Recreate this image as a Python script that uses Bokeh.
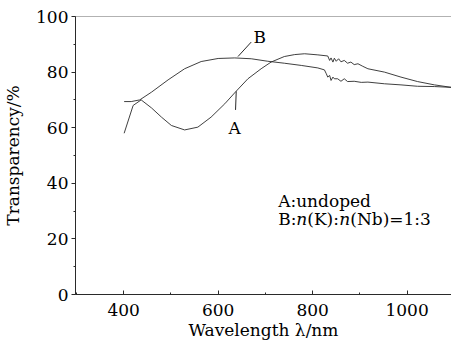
from bokeh.plotting import figure
from bokeh.models import Range1d, SingleIntervalTicker, Span
from bokeh.core.properties import value
from bokeh.embed import file_html
from bokeh.resources import INLINE

# Curve A: undoped
a_wl = [401, 420, 437, 459, 480, 501, 529, 557, 585, 614, 638, 663, 691, 712, 740, 762, 783,
        811, 832, 836, 839, 843, 846, 850, 855, 860, 867, 874, 881, 888, 896, 906, 917,
        952, 987, 1022, 1058, 1094]
a_tr = [58.0, 68.0, 70.0, 67.1, 63.8, 60.8, 59.2, 60.2, 63.8, 68.6, 73.1, 77.6, 81.2, 83.6, 85.6, 86.3, 86.6,
        86.2, 85.8, 84.2, 85.1, 83.6, 85.0, 83.9, 84.8, 83.7, 84.2, 83.2, 83.6, 82.7, 83.0, 82.1, 81.2,
        80.0, 78.2, 76.6, 75.4, 74.5]

# Curve B: n(K):n(Nb)=1:3
b_wl = [401, 416, 434, 459, 494, 529, 564, 600, 635, 670, 705, 740, 776, 811, 825,
        829, 832, 836, 839, 843, 846, 853, 860, 867, 874, 888, 903, 917,
        952, 987, 1022, 1058, 1094]
b_tr = [69.4, 69.4, 70.0, 72.8, 77.2, 81.2, 83.8, 84.9, 85.1, 84.8, 83.9, 83.2, 82.4, 81.5, 80.8,
        79.4, 78.2, 78.8, 77.0, 78.2, 77.6, 77.6, 76.7, 77.6, 76.6, 76.7, 76.3, 76.4,
        75.8, 75.4, 74.9, 74.8, 74.5]

x_ticks = [400, 600, 800, 1000]
y_ticks = [0, 20, 40, 60, 80, 100]

FONT = "DejaVu Serif"
INK = "#2a2a2a"

p = figure(width=451, height=342, output_backend="svg", toolbar_location=None,
           x_range=Range1d(298, 1094), y_range=Range1d(0, 100),
           min_border_left=75, min_border_right=0, min_border_top=16, min_border_bottom=48)
p.outline_line_color = None
p.grid.visible = False
p.background_fill_color = "white"
p.border_fill_color = "white"

p.line(a_wl, a_tr, line_color=INK, line_width=0.9)
p.line(b_wl, b_tr, line_color=INK, line_width=0.9)

p.add_layout(Span(location=100, dimension="width", line_color="#666666", line_width=1))

# leader lines and curve labels
p.line([670, 642], [90.8, 85.6], line_color=INK, line_width=1)
p.line([636.8, 638.3], [66.4, 73.1], line_color=INK, line_width=1)
p.text(x=[688], y=[92.6], text=["B"], text_font=value(FONT), text_font_size="17px",
       text_align="center", text_baseline="middle", text_color="black")
p.text(x=[635], y=[60.0], text=["A"], text_font=value(FONT), text_font_size="17px",
       text_align="center", text_baseline="middle", text_color="black")

# legend-like notes
p.text(x=[727], y=[33.8], text=["A:undoped"], text_font=value(FONT), text_font_size="17px",
       text_align="left", text_baseline="middle", text_color="black")
pieces = ["B:", "n", "(K):", "n", "(Nb)=1:3"]
offsets = [0, 18.2, 29.1, 61.2, 72.1]
styles = ["normal", "italic", "normal", "italic", "normal"]
for t, o, s in zip(pieces, offsets, styles):
    p.text(x=[727], y=[27.0], text=[t], x_offset=o, text_font=value(FONT), text_font_size="17px",
           text_font_style=s, text_align="left", text_baseline="middle", text_color="black")

xa = p.xaxis[0]
xa.ticker = SingleIntervalTicker(interval=200, num_minor_ticks=2)
xa.axis_label = "Wavelength λ/nm"
xa.major_tick_in = 4
xa.major_tick_out = 0
xa.minor_tick_in = 2
xa.minor_tick_out = 0
xa.major_label_standoff = 9
xa.axis_label_standoff = 1

ya = p.yaxis[0]
ya.ticker = SingleIntervalTicker(interval=20, num_minor_ticks=2)
ya.axis_label = "Transparency/%"
ya.major_tick_in = 0
ya.major_tick_out = 4
ya.minor_tick_in = 0
ya.minor_tick_out = 2
ya.major_label_standoff = 3
ya.axis_label_standoff = 10

for ax in (xa, ya):
    ax.axis_line_color = INK
    ax.major_tick_line_color = INK
    ax.minor_tick_line_color = INK
    ax.major_label_text_font = FONT
    ax.major_label_text_font_size = "17px"
    ax.major_label_text_color = "black"
    ax.axis_label_text_font = FONT
    ax.axis_label_text_font_size = "17px"
    ax.axis_label_text_font_style = "normal"
    ax.axis_label_text_color = "black"

open("out.html", "w").write(file_html(p, INLINE))
